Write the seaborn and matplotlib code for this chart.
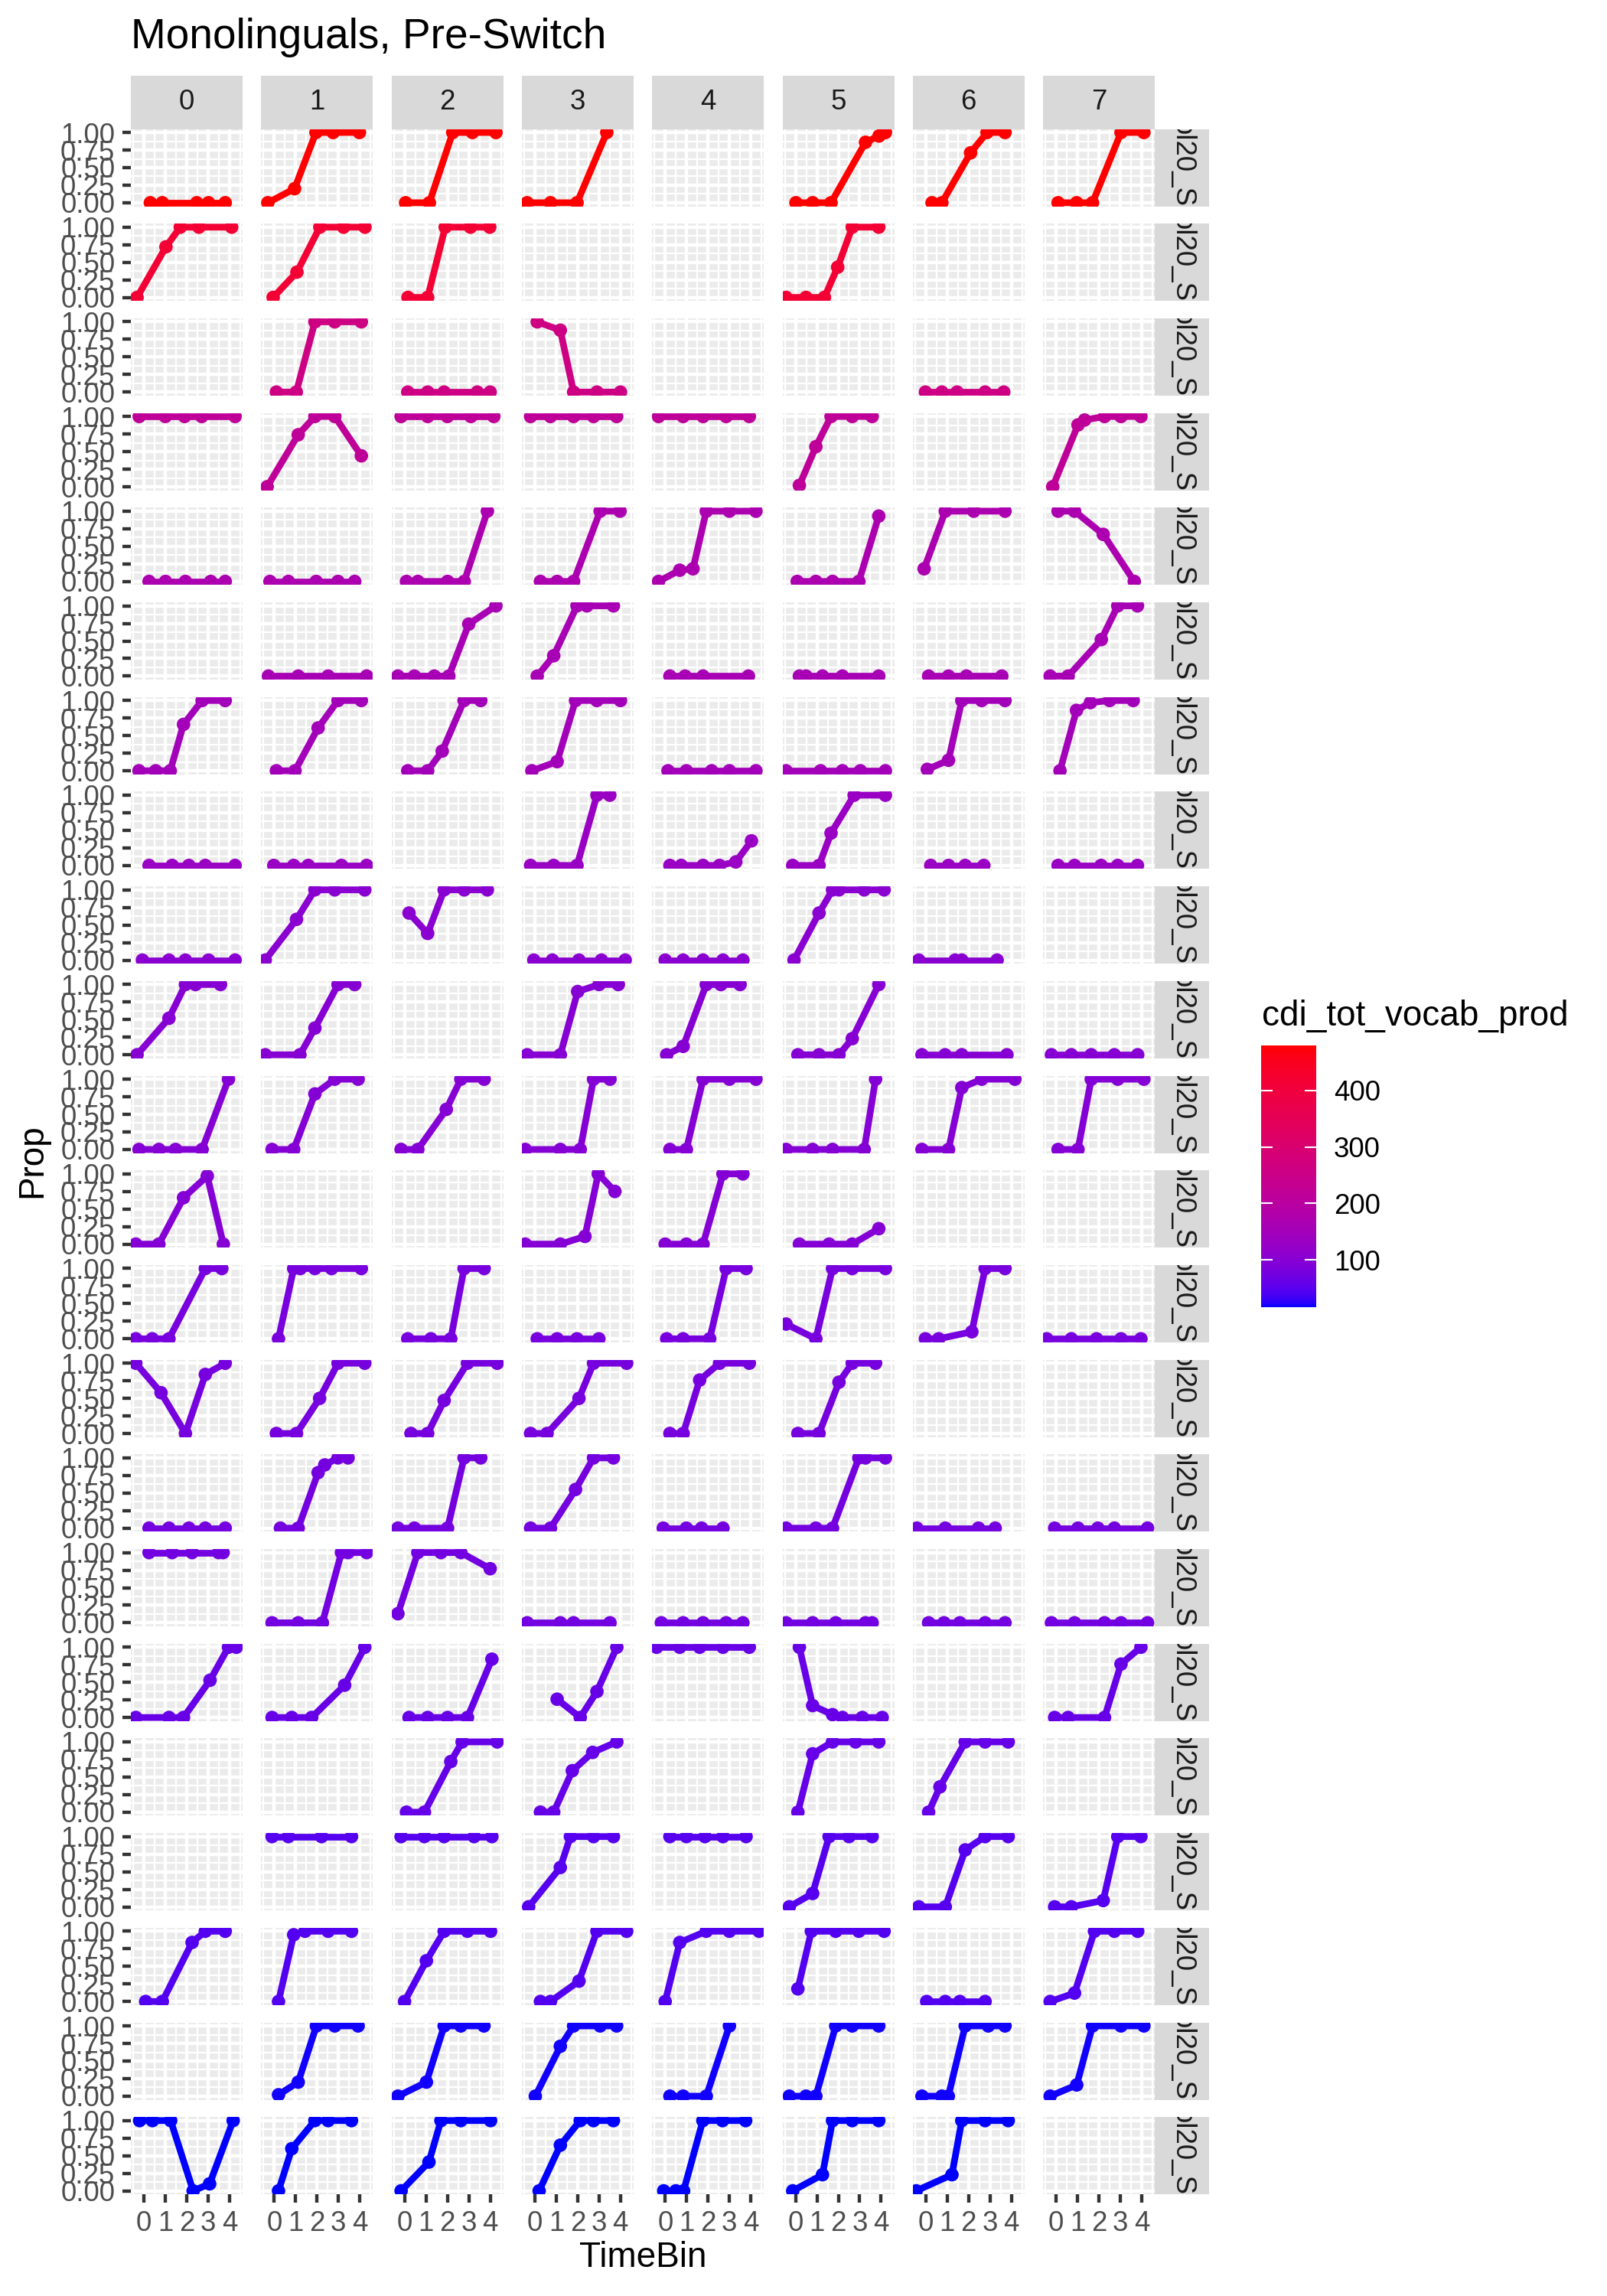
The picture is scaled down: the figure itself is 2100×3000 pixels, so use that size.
import numpy as np
import pandas as pd
import matplotlib
matplotlib.use("Agg")
import matplotlib.pyplot as plt
import seaborn as sns
from matplotlib.colors import ListedColormap, Normalize
from matplotlib.cm import ScalarMappable

# ---------------- data ----------------
# vocabulary (cdi_tot_vocab_prod) of each participant row
CDI = [480, 415, 260, 215, 170, 160, 150, 130, 105, 100, 98, 96,
       80, 78, 76, 74, 62, 60, 48, 45, 18, 16]
TRIALS = [0, 1, 2, 3, 4, 5, 6, 7]
TIMEBIN_TICKS = [0, 1, 2, 3, 4]
PROP_TICKS = [0.0, 0.25, 0.5, 0.75, 1.0]
PROP_LABELS = ["0.00", "0.25", "0.50", "0.75", "1.00"]
ROW_LABEL = "ol20_S"

# each row: one entry per trial, list of (jittered TimeBin, Prop) or None
R00 = [[(0.30, 0), (0.86, 0), (2.47, 0), (3.02, 0), (3.80, 0)],
       [(-0.30, 0), (0.95, 0.20), (1.95, 1), (2.75, 1), (3.98, 1)],
       [(0.05, 0), (1.16, 0), (2.25, 1), (3.17, 1), (4.27, 1)],
       [(-0.36, 0), (0.73, 0), (1.97, 0), (3.36, 1)],
       None,
       [(0.02, 0), (0.80, 0), (1.66, 0), (3.27, 0.86), (3.90, 0.95), (4.20, 1)],
       [(0.29, 0), (0.75, 0), (2.09, 0.71), (2.86, 1), (3.70, 1)],
       [(0.09, 0), (0.96, 0), (1.70, 0), (3.03, 1), (4.10, 1)]]
R01 = [[(-0.32, 0), (1.03, 0.72), (1.70, 1), (2.57, 1), (4.10, 1)],
       [(-0.05, 0), (1.06, 0.36), (2.13, 1), (3.24, 1), (4.24, 1)],
       [(0.16, 0), (1.08, 0), (1.90, 1), (3.08, 1), (3.98, 1)],
       None, None,
       [(-0.44, 0), (0.49, 0), (1.35, 0), (1.97, 0.43), (2.65, 1), (3.89, 1)],
       None, None]
R02 = [None,
       [(0.10, 0), (1.03, 0), (1.90, 1), (2.83, 1), (4.07, 1)],
       [(0.15, 0), (1.08, 0), (1.85, 0), (3.40, 0), (4.00, 0)],
       [(0.11, 1), (1.19, 0.88), (1.81, 0), (2.90, 0), (4.00, 0)],
       None, None,
       [(-0.02, 0), (0.75, 0), (1.46, 0), (2.77, 0), (3.64, 0)],
       None]
R03 = [[(-0.22, 1), (1.00, 1), (1.90, 1), (2.70, 1), (4.26, 1)],
       [(-0.33, 0), (1.12, 0.74), (1.90, 1), (2.83, 1), (4.07, 0.44)],
       [(-0.16, 1), (1.08, 1), (2.00, 1), (3.10, 1), (4.17, 1)],
       [(-0.20, 1), (0.73, 1), (1.81, 1), (2.74, 1), (3.82, 1)],
       [(-0.31, 1), (0.84, 1), (1.77, 1), (2.85, 1), (3.93, 1)],
       [(0.18, 0.02), (0.95, 0.57), (1.66, 1), (2.65, 1), (3.58, 1)],
       None,
       [(-0.16, 0), (1.02, 0.88), (1.33, 0.95), (2.26, 1), (3.03, 1), (3.96, 1)]]
R04 = [[(0.24, 0), (1.01, 0), (1.94, 0), (3.12, 0), (3.80, 0)],
       [(-0.20, 0), (0.66, 0), (1.96, 0), (2.98, 0), (3.76, 0)],
       [(0.09, 0), (0.62, 0), (2.01, 0), (2.79, 0), (3.87, 1)],
       [(0.26, 0), (1.04, 0), (1.81, 0), (3.05, 1), (3.98, 1)],
       [(-0.31, 0), (0.68, 0.16), (1.30, 0.18), (1.92, 1), (3.00, 1), (4.24, 1)],
       [(0.08, 0), (0.95, 0), (1.73, 0), (2.96, 0), (3.89, 0.93)],
       [(-0.08, 0.18), (0.91, 1), (2.24, 1), (3.70, 1)],
       [(0.09, 1), (0.86, 1), (2.20, 0.67), (3.65, 0)]]
R05 = [None,
       [(-0.27, 0), (1.12, 0), (2.52, 0), (4.32, 0)],
       [(-0.31, 0), (0.46, 0), (1.39, 0), (2.07, 0), (3.00, 0.74), (4.27, 1)],
       [(0.11, 0), (0.88, 0.29), (1.97, 1), (2.43, 1), (3.67, 1)],
       [(0.22, 0), (0.93, 0), (1.77, 0), (3.89, 0)],
       [(0.18, 0), (0.49, 0), (1.26, 0), (2.19, 0), (3.89, 0)],
       [(0.13, 0), (1.06, 0), (1.90, 0), (3.55, 0)],
       [(-0.28, 0), (0.56, 0), (2.11, 0.52), (2.88, 1), (3.80, 1)]]
R06 = [[(-0.23, 0), (0.55, 0), (1.23, 0), (1.85, 0.66), (2.72, 1), (3.80, 1)],
       [(0.10, 0), (0.97, 0), (2.05, 0.61), (2.98, 1), (4.07, 1)],
       [(0.15, 0), (1.08, 0), (1.76, 0.28), (2.78, 1), (3.56, 1)],
       [(-0.14, 0), (1.04, 0.13), (1.90, 1), (2.90, 1), (4.00, 1)],
       [(0.13, 0), (0.99, 0), (2.17, 0), (3.00, 0), (4.24, 0)],
       [(-0.44, 0), (1.17, 0), (2.19, 0), (3.03, 0), (4.20, 0)],
       [(0.07, 0.02), (1.06, 0.15), (1.68, 1), (2.61, 1), (3.70, 1)],
       [(0.18, 0), (0.95, 0.86), (1.60, 0.97), (2.50, 1), (3.60, 1)]]
R07 = [[(0.24, 0), (1.32, 0), (2.10, 0), (2.87, 0), (4.26, 0)],
       [(-0.02, 0), (0.91, 0), (1.59, 0), (3.14, 0), (4.32, 0)],
       None,
       [(-0.20, 0), (0.88, 0), (1.97, 0), (2.90, 1), (3.50, 1)],
       [(0.22, 0), (0.75, 0), (1.77, 0), (2.54, 0), (3.30, 0.05), (4.03, 0.35)],
       [(-0.13, 0), (1.10, 0), (1.66, 0.46), (2.74, 1), (4.20, 1)],
       [(0.23, 0), (1.06, 0), (1.84, 0), (2.71, 0)],
       [(0.09, 0), (0.86, 0), (2.10, 0), (2.88, 0), (3.80, 0)]]
R08 = [[(-0.07, 0), (1.17, 0), (1.94, 0), (3.02, 0), (4.26, 0)],
       [(-0.42, 0), (1.04, 0.58), (1.90, 1), (2.83, 1), (4.23, 1)],
       [(0.21, 0.67), (1.08, 0.38), (1.85, 1), (2.79, 1), (3.87, 1)],
       [(-0.05, 0), (0.82, 0), (2.06, 0), (3.11, 0), (4.22, 0)],
       [(0.00, 0), (0.84, 0), (1.77, 0), (2.70, 0), (3.63, 0)],
       [(-0.07, 0), (1.10, 0.67), (1.73, 1), (2.03, 1), (3.21, 1), (4.14, 1)],
       [(-0.33, 0), (1.37, 0), (1.68, 0), (3.33, 0)],
       None]
R09 = [[(-0.32, 0), (1.17, 0.52), (1.94, 1), (2.41, 1), (3.58, 1)],
       [(-0.42, 0), (1.20, 0), (1.90, 0.38), (2.98, 1), (3.76, 1)],
       None,
       [(-0.36, 0), (1.19, 0), (2.00, 0.90), (3.00, 1), (3.90, 1)],
       [(0.07, 0), (0.84, 0.12), (1.92, 1), (2.60, 1), (3.50, 1)],
       [(0.11, 0), (1.10, 0), (2.03, 0), (2.65, 0.23), (3.89, 1)],
       [(-0.18, 0), (0.90, 0), (1.68, 0), (3.79, 0)],
       [(-0.22, 0), (0.71, 0), (1.64, 0), (2.72, 0), (3.81, 0)]]
R10 = [[(-0.23, 0), (0.70, 0), (1.48, 0), (2.72, 0), (3.95, 1)],
       [(-0.10, 0), (0.91, 0), (1.90, 0.79), (2.83, 1), (3.92, 1)],
       [(-0.16, 0), (0.62, 0), (1.95, 0.57), (2.63, 1), (3.72, 1)],
       [(-0.45, 0), (1.19, 0), (2.12, 0), (2.74, 1), (3.51, 1)],
       [(0.22, 0), (0.99, 0), (1.77, 1), (3.00, 1), (4.24, 1)],
       [(-0.44, 0), (0.80, 0), (1.73, 0), (3.21, 0), (3.74, 1)],
       [(-0.18, 0), (1.06, 0), (1.68, 0.88), (2.61, 1), (4.16, 1)],
       [(0.09, 0), (1.02, 0), (1.64, 1), (2.88, 1), (4.10, 1)]]
R11 = [[(-0.38, 0), (0.70, 0), (1.85, 0.66), (2.96, 0.97), (3.71, 0)],
       None, None,
       [(-0.45, 0), (1.19, 0), (2.34, 0.11), (2.96, 1), (3.74, 0.75)],
       [(0.00, 0), (0.99, 0), (1.77, 0), (2.70, 1), (3.63, 1)],
       [(0.18, 0), (1.57, 0), (2.65, 0), (3.89, 0.22)],
       None, None]
R12 = [[(-0.38, 0), (0.39, 0), (1.17, 0), (2.87, 1), (3.64, 1)],
       [(0.20, 0), (0.91, 1), (1.22, 1), (1.90, 1), (2.68, 1), (4.07, 1)],
       [(0.15, 0), (1.23, 0), (2.16, 0), (2.78, 1), (3.72, 1)],
       [(0.11, 0), (1.04, 0), (1.97, 0), (2.99, 0)],
       [(0.07, 0), (0.84, 0), (2.08, 0), (2.85, 1), (3.78, 1)],
       [(-0.44, 0.21), (0.95, 0), (1.73, 1), (2.65, 1), (4.20, 1)],
       [(-0.02, 0), (0.60, 0), (2.15, 0.10), (2.77, 1), (3.70, 1)],
       [(-0.44, 0), (0.71, 0), (1.89, 0), (3.03, 0), (3.96, 0)]]
R13 = [[(-0.38, 1), (0.80, 0.58), (1.94, 0), (2.87, 0.84), (3.80, 1)],
       [(0.10, 0), (1.04, 0), (2.12, 0.50), (2.98, 1), (4.23, 1)],
       [(0.30, 0), (1.08, 0), (1.85, 0.47), (2.94, 1), (4.33, 1)],
       [(-0.20, 0), (0.57, 0), (2.06, 0.50), (2.74, 1), (4.29, 1)],
       [(0.22, 0), (0.84, 0), (1.61, 0.76), (2.54, 1), (3.93, 1)],
       [(0.11, 0), (1.10, 0), (2.03, 0.73), (2.65, 1), (3.74, 1)],
       None, None]
R14 = [[(0.24, 0), (1.17, 0), (2.10, 0), (2.87, 0), (3.80, 0)],
       [(0.29, 0), (1.12, 0), (2.05, 0.79), (2.36, 0.90), (2.98, 1), (3.45, 1)],
       [(-0.31, 0), (0.46, 0), (2.01, 0), (2.78, 1), (3.56, 1)],
       [(-0.20, 0), (0.73, 0), (1.90, 0.55), (2.74, 1), (3.67, 1)],
       [(-0.09, 0), (0.99, 0), (1.70, 0), (2.70, 0)],
       [(-0.44, 0), (0.95, 0), (1.73, 0), (2.96, 1), (3.27, 1), (4.20, 1)],
       [(-0.42, 0), (0.91, 0), (2.46, 0), (3.24, 0)],
       [(-0.07, 0), (1.02, 0), (1.95, 0), (2.72, 0), (4.27, 0)]]
R15 = [[(0.24, 1), (1.32, 1), (2.25, 1), (3.49, 1), (3.70, 1)],
       [(-0.10, 0), (1.12, 0), (2.25, 0), (3.14, 1), (3.45, 1), (4.32, 1)],
       [(-0.31, 0.13), (0.62, 1), (1.70, 1), (2.63, 1), (4.00, 0.77)],
       [(-0.36, 0), (1.19, 0), (1.81, 0), (3.51, 0)],
       [(-0.18, 0), (0.84, 0), (1.77, 0), (2.85, 0), (3.63, 0)],
       [(-0.44, 0), (0.80, 0), (1.88, 0), (3.27, 0), (3.58, 0)],
       [(0.13, 0), (0.85, 0), (1.59, 0), (2.77, 0), (3.70, 0)],
       [(-0.22, 0), (0.86, 0), (2.26, 0), (3.03, 0), (4.27, 0)]]
R16 = [[(-0.38, 0), (1.17, 0), (1.85, 0), (3.09, 0.53), (3.95, 1), (4.32, 1)],
       [(-0.10, 0), (0.82, 0), (1.75, 0), (3.29, 0.46), (4.23, 1)],
       [(0.21, 0), (1.08, 0), (2.01, 0), (2.94, 0), (4.08, 0.83)],
       [(1.04, 0.26), (2.12, 0), (2.90, 0.37), (3.83, 1)],
       [(-0.40, 1), (0.68, 1), (1.61, 1), (2.70, 1), (3.93, 1)],
       [(0.18, 1), (0.80, 0.17), (1.73, 0.04), (2.19, 0), (3.12, 0), (4.05, 0)],
       None,
       [(-0.07, 0), (0.56, 0), (2.26, 0), (3.03, 0.76), (3.96, 1)]]
R17 = [None, None,
       [(0.09, 0), (0.93, 0), (2.16, 0.72), (2.69, 1), (4.33, 1)],
       [(0.26, 0), (0.88, 0), (1.75, 0.59), (2.70, 0.85), (3.83, 1)],
       None,
       [(0.11, 0), (0.80, 0.83), (1.73, 1), (2.81, 1), (3.89, 1)],
       [(0.13, 0), (0.66, 0.36), (1.84, 1), (2.77, 1), (3.85, 1)],
       None]
R18 = [None,
       [(-0.10, 1), (0.66, 1), (2.21, 1), (3.61, 1)],
       [(-0.16, 1), (0.93, 1), (1.85, 1), (3.25, 1), (4.08, 1)],
       [(-0.29, 0), (1.19, 0.56), (1.66, 1), (2.74, 1), (3.67, 1)],
       [(0.22, 1), (0.99, 1), (1.86, 1), (2.70, 1), (3.78, 1)],
       [(-0.29, 0), (0.80, 0.19), (1.57, 1), (2.50, 1), (3.58, 1)],
       [(-0.33, 0), (0.91, 0), (1.84, 0.81), (2.77, 1), (3.85, 1)],
       [(-0.07, 0), (0.71, 0), (2.20, 0.09), (2.88, 1), (3.96, 1)]]
R19 = [[(0.08, 0), (0.86, 0), (2.25, 0.84), (2.87, 1), (3.80, 1)],
       [(0.20, 0), (0.91, 0.95), (1.44, 1), (2.52, 1), (3.61, 1)],
       [(0.00, 0), (1.02, 0.58), (1.85, 1), (2.94, 1), (4.02, 1)],
       [(0.26, 0), (0.73, 0), (2.06, 0.29), (2.90, 1), (4.29, 1)],
       [(0.00, 0), (0.68, 0.84), (1.92, 1), (3.00, 1), (4.39, 1)],
       [(0.11, 0.18), (0.74, 1), (1.88, 1), (2.96, 1), (4.14, 1)],
       [(0.04, 0), (0.91, 0), (1.59, 0), (2.77, 0)],
       [(-0.28, 0), (0.86, 0.12), (1.79, 1), (2.72, 1), (3.81, 1)]]
R20 = [None,
       [(0.20, 0.02), (1.12, 0.20), (1.97, 1), (2.83, 1), (3.92, 1)],
       [(-0.31, 0), (1.02, 0.20), (1.85, 1), (2.63, 1), (3.71, 1)],
       [(0.02, 0), (1.19, 0.71), (1.81, 1), (3.05, 1), (3.82, 1)],
       [(0.22, 0), (0.84, 0), (1.92, 0), (3.00, 1)],
       [(-0.29, 0), (0.49, 0), (0.95, 0), (1.88, 1), (2.65, 1), (3.89, 1)],
       [(-0.18, 0), (0.75, 0), (1.05, 0), (1.84, 1), (2.92, 1), (3.70, 1)],
       [(-0.28, 0), (0.96, 0.16), (1.70, 1), (3.03, 1), (4.10, 1)]]
R21 = [[(-0.20, 1), (0.40, 1), (1.25, 1), (2.30, 0), (3.07, 0.10), (4.17, 1)],
       [(0.20, 0), (0.82, 0.60), (1.90, 1), (2.52, 1), (3.61, 1)],
       [(-0.16, 0), (1.14, 0.41), (1.70, 1), (2.63, 1), (4.02, 1)],
       [(0.20, 0), (1.19, 0.65), (2.12, 1), (2.74, 1), (3.67, 1)],
       [(-0.07, 0), (0.50, 0), (0.86, 0), (1.76, 1), (2.68, 1), (3.76, 1)],
       [(-0.13, 0), (1.26, 0.23), (1.73, 1), (2.65, 1), (3.89, 1)],
       [(-0.45, 0), (1.22, 0.23), (1.68, 1), (2.77, 1), (3.85, 1)],
       None]

ROWS = [R00, R01, R02, R03, R04, R05, R06, R07, R08, R09, R10,
        R11, R12, R13, R14, R15, R16, R17, R18, R19, R20, R21]

records = []
for r, row in enumerate(ROWS):
    for c, panel in enumerate(row):
        if panel is None:
            continue
        for (x, y) in panel:
            records.append(dict(row=r, trial=TRIALS[c], TimeBin=x, Prop=y, cdi=CDI[r]))
df = pd.DataFrame(records)

# ---------------- colour scale: blue -> red interpolated in CIELAB ----------------
_M = np.array([[0.4124564, 0.3575761, 0.1804375],
               [0.2126729, 0.7151522, 0.0721750],
               [0.0193339, 0.1191920, 0.9503041]])
_WP = np.array([0.95047, 1.0, 1.08883])


def srgb_to_lab(rgb):
    rgb = np.asarray(rgb, float)
    lin = np.where(rgb <= 0.04045, rgb / 12.92, ((rgb + 0.055) / 1.055) ** 2.4)
    f = (_M @ lin) / _WP
    d = 6 / 29
    f = np.where(f > d ** 3, np.cbrt(f), f / (3 * d * d) + 4 / 29)
    return np.array([116 * f[1] - 16, 500 * (f[0] - f[1]), 200 * (f[1] - f[2])])


def lab_to_srgb(lab):
    L, a, b = lab
    fy = (L + 16) / 116
    f = np.array([fy + a / 500, fy, fy - b / 200])
    d = 6 / 29
    xyz = np.where(f > d, f ** 3, 3 * d * d * (f - 4 / 29)) * _WP
    lin = np.clip(np.linalg.inv(_M) @ xyz, 0, 1)
    rgb = np.where(lin <= 0.0031308, 12.92 * lin, 1.055 * lin ** (1 / 2.4) - 0.055)
    return np.clip(rgb, 0, 1)


lab_lo = srgb_to_lab([0, 0, 1])
lab_hi = srgb_to_lab([1, 0, 0])
cmap = ListedColormap([lab_to_srgb(lab_lo + t * (lab_hi - lab_lo)) for t in np.linspace(0, 1, 256)])
vmin, vmax = 16, 480
norm = Normalize(vmin, vmax)

# ---------------- layout (pixel geometry of a 2100x3000 canvas) ----------------
W, H = 2100, 3000
PANEL_L0, COL_STEP, PANEL_W = 171, 170.3, 146
PANEL_T0, ROW_STEP, PANEL_H = 168.5, 123.7, 101
STRIP_T = 99
RSTRIP_W = 71

plt.rcParams['font.family'] = ['Liberation Sans', 'DejaVu Sans']

fig = plt.figure(figsize=(7, 10), dpi=300)
fig.patch.set_facecolor('white')


def rect(x, y_top, w, h):
    return [x / W, 1 - (y_top + h) / H, w / W, h / H]


GRID_MAJ = 1.05
GRID_MIN = 0.53
nrows = len(ROWS)
ncols = len(TRIALS)

for r in range(nrows):
    colr = cmap(norm(CDI[r]))
    top = PANEL_T0 + r * ROW_STEP
    for c in range(ncols):
        left = PANEL_L0 + c * COL_STEP
        ax = fig.add_axes(rect(left, top, PANEL_W, PANEL_H))
        ax.set_facecolor('#EBEBEB')
        sub = df[(df['row'] == r) & (df['trial'] == TRIALS[c])]
        if len(sub):
            sns.lineplot(data=sub, x='TimeBin', y='Prop', color=colr, linewidth=2.1,
                         estimator=None, sort=True, ax=ax, legend=False,
                         solid_capstyle='round', solid_joinstyle='round', zorder=3)
            sns.scatterplot(data=sub, x='TimeBin', y='Prop', color=colr, s=18,
                            edgecolor='none', linewidth=0, ax=ax, legend=False, zorder=4)
        ax.set_xlim(-0.61, 4.61)
        ax.set_ylim(-0.05, 1.05)
        ax.set_xticks(TIMEBIN_TICKS)
        ax.set_xticks([-0.5, 0.5, 1.5, 2.5, 3.5, 4.5], minor=True)
        ax.set_yticks(PROP_TICKS)
        ax.set_yticks([0.125, 0.375, 0.625, 0.875], minor=True)
        ax.grid(which='major', color='white', linewidth=GRID_MAJ, zorder=0)
        ax.grid(which='minor', color='white', linewidth=GRID_MIN, zorder=0)
        ax.set_axisbelow(True)
        for s in ax.spines.values():
            s.set_visible(False)
        ax.set_xlabel('')
        ax.set_ylabel('')
        ax.tick_params(which='minor', length=0)
        ax.tick_params(which='major', length=2.75, width=1.05, color='#333333',
                       labelsize=8.8, labelcolor='#4D4D4D', pad=2.2)
        if c == 0:
            ax.set_yticklabels(PROP_LABELS)
        else:
            ax.tick_params(axis='y', which='major', length=0, labelleft=False)
        if r == nrows - 1:
            ax.set_xticklabels([str(t) for t in TIMEBIN_TICKS])
        else:
            ax.tick_params(axis='x', which='major', length=0, labelbottom=False)

    # right-hand strip
    sax = fig.add_axes(rect(PANEL_L0 + 7 * COL_STEP + PANEL_W, top, RSTRIP_W, PANEL_H))
    sax.set_facecolor('#D9D9D9')
    sax.set_xticks([])
    sax.set_yticks([])
    for s in sax.spines.values():
        s.set_visible(False)
    sax.text(0.5, 1 + 12 / PANEL_H, ROW_LABEL, rotation=-90, ha='center', va='top',
             transform=sax.transAxes, fontsize=8.8, color='#1A1A1A', clip_on=True)

# top strips
for c in range(ncols):
    left = PANEL_L0 + c * COL_STEP
    tax = fig.add_axes(rect(left, STRIP_T, PANEL_W, PANEL_T0 - STRIP_T))
    tax.set_facecolor('#D9D9D9')
    tax.set_xticks([])
    tax.set_yticks([])
    for s in tax.spines.values():
        s.set_visible(False)
    tax.text(0.5, 0.5, str(TRIALS[c]), ha='center', va='center', fontsize=8.8,
             color='#1A1A1A', transform=tax.transAxes)

# titles
fig.text(PANEL_L0 / W, 1 - 63 / H, 'Monolinguals, Pre-Switch', fontsize=13.2,
         ha='left', va='baseline', color='black')
fig.text(42 / W, 1 - 1517 / H, 'Prop', rotation=90, ha='center', va='center',
         fontsize=11, color='black')
fig.text(840 / W, 1 - 2950 / H, 'TimeBin', ha='center', va='center',
         fontsize=11, color='black')

# colour bar legend
cax = fig.add_axes(rect(1648, 1366, 72, 342))
cb = fig.colorbar(ScalarMappable(norm=norm, cmap=cmap), cax=cax)
cb.outline.set_visible(False)
cb.set_ticks([100, 200, 300, 400])
cb.set_ticklabels(['100', '200', '300', '400'])
cax.tick_params(length=0, pad=5.5, labelsize=8.8, labelcolor='black')
for v in [100, 200, 300, 400]:
    cax.axhline(v, xmin=0, xmax=0.19, color='white', linewidth=0.5)
    cax.axhline(v, xmin=0.81, xmax=1, color='white', linewidth=0.5)
fig.text(1649 / W, 1 - 1340 / H, 'cdi_tot_vocab_prod', fontsize=11,
         ha='left', va='baseline', color='black')

fig.savefig('out.png', dpi=300, facecolor='white')
